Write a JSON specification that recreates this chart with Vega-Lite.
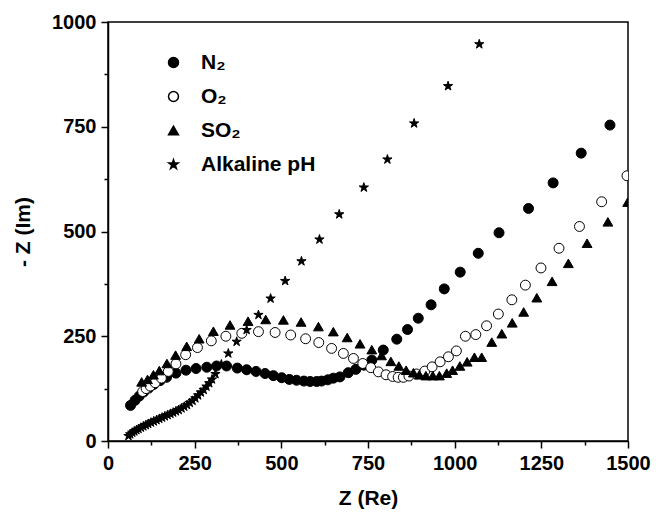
{
  "$schema": "https://vega.github.io/schema/vega-lite/v6.json",
  "width": 520,
  "height": 419,
  "autosize": {"type": "none"},
  "padding": {"left": 108, "top": 22, "right": 28, "bottom": 72},
  "background": "white",
  "config": {
    "font": "Liberation Sans",
    "view": {"stroke": "black", "strokeWidth": 1.5},
    "axis": {
      "grid": false,
      "domainColor": "black",
      "domainWidth": 1.5,
      "tickColor": "black",
      "tickWidth": 1.5,
      "labelColor": "black",
      "labelFont": "Liberation Sans",
      "labelFontSize": 20,
      "labelFontWeight": "bold",
      "titleFont": "Liberation Sans",
      "titleFontSize": 21,
      "titleFontWeight": "bold",
      "titleColor": "black",
      "labelOverlap": false,
      "labelFlush": false
    },
    "legend": {
      "labelFont": "Liberation Sans",
      "labelFontSize": 21,
      "labelFontWeight": "bold",
      "labelColor": "black",
      "title": null,
      "orient": "none",
      "legendX": 55,
      "legendY": 30,
      "symbolSize": 90,
      "labelOffset": 17,
      "rowPadding": 12,
      "padding": 0
    }
  },
  "data": {
    "values": [
      {"s": "N₂", "x": 65, "y": 85}, {"s": "N₂", "x": 78, "y": 97}, {"s": "N₂", "x": 90, "y": 107},
      {"s": "N₂", "x": 103, "y": 117}, {"s": "N₂", "x": 117, "y": 126}, {"s": "N₂", "x": 132, "y": 135},
      {"s": "N₂", "x": 150, "y": 144}, {"s": "N₂", "x": 169, "y": 152}, {"s": "N₂", "x": 196, "y": 162},
      {"s": "N₂", "x": 225, "y": 169}, {"s": "N₂", "x": 254, "y": 173}, {"s": "N₂", "x": 285, "y": 176},
      {"s": "N₂", "x": 313, "y": 179}, {"s": "N₂", "x": 342, "y": 179}, {"s": "N₂", "x": 373, "y": 174},
      {"s": "N₂", "x": 400, "y": 170}, {"s": "N₂", "x": 427, "y": 166}, {"s": "N₂", "x": 453, "y": 161},
      {"s": "N₂", "x": 477, "y": 156}, {"s": "N₂", "x": 501, "y": 151}, {"s": "N₂", "x": 523, "y": 147},
      {"s": "N₂", "x": 544, "y": 145}, {"s": "N₂", "x": 565, "y": 143}, {"s": "N₂", "x": 583, "y": 142},
      {"s": "N₂", "x": 602, "y": 142}, {"s": "N₂", "x": 616, "y": 143}, {"s": "N₂", "x": 634, "y": 146},
      {"s": "N₂", "x": 650, "y": 150}, {"s": "N₂", "x": 669, "y": 153}, {"s": "N₂", "x": 693, "y": 163},
      {"s": "N₂", "x": 715, "y": 171}, {"s": "N₂", "x": 738, "y": 181}, {"s": "N₂", "x": 761, "y": 193},
      {"s": "N₂", "x": 794, "y": 217}, {"s": "N₂", "x": 833, "y": 243}, {"s": "N₂", "x": 864, "y": 266},
      {"s": "N₂", "x": 895, "y": 293}, {"s": "N₂", "x": 932, "y": 325}, {"s": "N₂", "x": 970, "y": 363},
      {"s": "N₂", "x": 1016, "y": 403}, {"s": "N₂", "x": 1068, "y": 448}, {"s": "N₂", "x": 1128, "y": 497},
      {"s": "N₂", "x": 1213, "y": 555}, {"s": "N₂", "x": 1284, "y": 616}, {"s": "N₂", "x": 1365, "y": 687},
      {"s": "N₂", "x": 1448, "y": 754},

      {"s": "O₂", "x": 100, "y": 118}, {"s": "O₂", "x": 110, "y": 125}, {"s": "O₂", "x": 122, "y": 131},
      {"s": "O₂", "x": 136, "y": 139}, {"s": "O₂", "x": 154, "y": 150}, {"s": "O₂", "x": 174, "y": 166},
      {"s": "O₂", "x": 196, "y": 184}, {"s": "O₂", "x": 224, "y": 206}, {"s": "O₂", "x": 258, "y": 223},
      {"s": "O₂", "x": 298, "y": 239}, {"s": "O₂", "x": 340, "y": 250}, {"s": "O₂", "x": 386, "y": 257},
      {"s": "O₂", "x": 434, "y": 261}, {"s": "O₂", "x": 482, "y": 259}, {"s": "O₂", "x": 527, "y": 253},
      {"s": "O₂", "x": 570, "y": 244}, {"s": "O₂", "x": 608, "y": 235}, {"s": "O₂", "x": 645, "y": 221},
      {"s": "O₂", "x": 679, "y": 209}, {"s": "O₂", "x": 708, "y": 197}, {"s": "O₂", "x": 735, "y": 185},
      {"s": "O₂", "x": 758, "y": 175}, {"s": "O₂", "x": 780, "y": 165}, {"s": "O₂", "x": 802, "y": 158},
      {"s": "O₂", "x": 821, "y": 154}, {"s": "O₂", "x": 837, "y": 152}, {"s": "O₂", "x": 852, "y": 152},
      {"s": "O₂", "x": 868, "y": 155}, {"s": "O₂", "x": 890, "y": 160}, {"s": "O₂", "x": 914, "y": 167},
      {"s": "O₂", "x": 935, "y": 177}, {"s": "O₂", "x": 958, "y": 189}, {"s": "O₂", "x": 982, "y": 201},
      {"s": "O₂", "x": 1005, "y": 215}, {"s": "O₂", "x": 1031, "y": 250}, {"s": "O₂", "x": 1061, "y": 254},
      {"s": "O₂", "x": 1092, "y": 275}, {"s": "O₂", "x": 1126, "y": 303}, {"s": "O₂", "x": 1165, "y": 337},
      {"s": "O₂", "x": 1204, "y": 372}, {"s": "O₂", "x": 1249, "y": 413}, {"s": "O₂", "x": 1301, "y": 460},
      {"s": "O₂", "x": 1360, "y": 512}, {"s": "O₂", "x": 1424, "y": 571}, {"s": "O₂", "x": 1497, "y": 633},

      {"s": "SO₂", "x": 97, "y": 141}, {"s": "SO₂", "x": 114, "y": 147}, {"s": "SO₂", "x": 131, "y": 158},
      {"s": "SO₂", "x": 148, "y": 168}, {"s": "SO₂", "x": 170, "y": 185}, {"s": "SO₂", "x": 195, "y": 205},
      {"s": "SO₂", "x": 227, "y": 226}, {"s": "SO₂", "x": 263, "y": 244}, {"s": "SO₂", "x": 304, "y": 262},
      {"s": "SO₂", "x": 352, "y": 277}, {"s": "SO₂", "x": 404, "y": 286}, {"s": "SO₂", "x": 455, "y": 290},
      {"s": "SO₂", "x": 506, "y": 289}, {"s": "SO₂", "x": 557, "y": 284}, {"s": "SO₂", "x": 607, "y": 273},
      {"s": "SO₂", "x": 650, "y": 261}, {"s": "SO₂", "x": 690, "y": 247}, {"s": "SO₂", "x": 727, "y": 232},
      {"s": "SO₂", "x": 761, "y": 218}, {"s": "SO₂", "x": 789, "y": 204}, {"s": "SO₂", "x": 816, "y": 190},
      {"s": "SO₂", "x": 839, "y": 179}, {"s": "SO₂", "x": 860, "y": 169}, {"s": "SO₂", "x": 881, "y": 163},
      {"s": "SO₂", "x": 898, "y": 158}, {"s": "SO₂", "x": 917, "y": 156}, {"s": "SO₂", "x": 937, "y": 156},
      {"s": "SO₂", "x": 956, "y": 156}, {"s": "SO₂", "x": 977, "y": 162}, {"s": "SO₂", "x": 994, "y": 169},
      {"s": "SO₂", "x": 1015, "y": 179}, {"s": "SO₂", "x": 1036, "y": 189}, {"s": "SO₂", "x": 1057, "y": 200},
      {"s": "SO₂", "x": 1078, "y": 200}, {"s": "SO₂", "x": 1107, "y": 236}, {"s": "SO₂", "x": 1136, "y": 256},
      {"s": "SO₂", "x": 1166, "y": 282}, {"s": "SO₂", "x": 1199, "y": 308}, {"s": "SO₂", "x": 1237, "y": 342},
      {"s": "SO₂", "x": 1281, "y": 381}, {"s": "SO₂", "x": 1328, "y": 424}, {"s": "SO₂", "x": 1382, "y": 472},
      {"s": "SO₂", "x": 1442, "y": 523}, {"s": "SO₂", "x": 1499, "y": 570},

      {"s": "Alkaline pH", "x": 59, "y": 12}, {"s": "Alkaline pH", "x": 64, "y": 16}, {"s": "Alkaline pH", "x": 70, "y": 20},
      {"s": "Alkaline pH", "x": 76, "y": 23}, {"s": "Alkaline pH", "x": 82, "y": 26}, {"s": "Alkaline pH", "x": 88, "y": 29},
      {"s": "Alkaline pH", "x": 95, "y": 32}, {"s": "Alkaline pH", "x": 102, "y": 35}, {"s": "Alkaline pH", "x": 109, "y": 38},
      {"s": "Alkaline pH", "x": 116, "y": 41}, {"s": "Alkaline pH", "x": 124, "y": 44}, {"s": "Alkaline pH", "x": 132, "y": 47},
      {"s": "Alkaline pH", "x": 140, "y": 50}, {"s": "Alkaline pH", "x": 148, "y": 53}, {"s": "Alkaline pH", "x": 156, "y": 56},
      {"s": "Alkaline pH", "x": 164, "y": 59}, {"s": "Alkaline pH", "x": 172, "y": 62}, {"s": "Alkaline pH", "x": 180, "y": 65},
      {"s": "Alkaline pH", "x": 188, "y": 68}, {"s": "Alkaline pH", "x": 196, "y": 71}, {"s": "Alkaline pH", "x": 204, "y": 74},
      {"s": "Alkaline pH", "x": 212, "y": 78}, {"s": "Alkaline pH", "x": 220, "y": 82}, {"s": "Alkaline pH", "x": 228, "y": 86},
      {"s": "Alkaline pH", "x": 236, "y": 91}, {"s": "Alkaline pH", "x": 244, "y": 96}, {"s": "Alkaline pH", "x": 252, "y": 102},
      {"s": "Alkaline pH", "x": 260, "y": 109}, {"s": "Alkaline pH", "x": 268, "y": 116}, {"s": "Alkaline pH", "x": 276, "y": 122},
      {"s": "Alkaline pH", "x": 284, "y": 130}, {"s": "Alkaline pH", "x": 292, "y": 138}, {"s": "Alkaline pH", "x": 300, "y": 147},
      {"s": "Alkaline pH", "x": 310, "y": 160}, {"s": "Alkaline pH", "x": 327, "y": 183}, {"s": "Alkaline pH", "x": 347, "y": 209},
      {"s": "Alkaline pH", "x": 371, "y": 237}, {"s": "Alkaline pH", "x": 400, "y": 265}, {"s": "Alkaline pH", "x": 434, "y": 301},
      {"s": "Alkaline pH", "x": 469, "y": 340}, {"s": "Alkaline pH", "x": 511, "y": 382}, {"s": "Alkaline pH", "x": 558, "y": 429},
      {"s": "Alkaline pH", "x": 610, "y": 481}, {"s": "Alkaline pH", "x": 667, "y": 541}, {"s": "Alkaline pH", "x": 738, "y": 605},
      {"s": "Alkaline pH", "x": 806, "y": 672}, {"s": "Alkaline pH", "x": 883, "y": 758}, {"s": "Alkaline pH", "x": 981, "y": 847},
      {"s": "Alkaline pH", "x": 1071, "y": 947}
    ]
  },
  "mark": {"type": "point", "stroke": "black", "strokeWidth": 1, "opacity": 1, "fillOpacity": 1, "clip": true},
  "encoding": {
    "x": {
      "field": "x", "type": "quantitative",
      "scale": {"domain": [0, 1500], "nice": false, "zero": false},
      "axis": {
        "title": "Z (Re)",
        "values": [0, 125, 250, 375, 500, 625, 750, 875, 1000, 1125, 1250, 1375, 1500],
        "labelExpr": "datum.value % 250 === 0 ? datum.label : ''",
        "format": "d",
        "tickSize": {"condition": {"test": "datum.value % 250 === 0", "value": 7}, "value": 4},
        "labelPadding": 5,
        "titlePadding": 14
      }
    },
    "y": {
      "field": "y", "type": "quantitative",
      "scale": {"domain": [0, 1000], "nice": false, "zero": false},
      "axis": {
        "title": "- Z (Im)",
        "values": [0, 125, 250, 375, 500, 625, 750, 875, 1000],
        "labelExpr": "datum.value % 250 === 0 ? datum.label : ''",
        "format": "d",
        "tickSize": {"condition": {"test": "datum.value % 250 === 0", "value": 7}, "value": 4},
        "labelPadding": 5,
        "titlePadding": 18
      }
    },
    "size": {
      "field": "s", "type": "nominal",
      "scale": {"domain": ["N₂", "O₂", "SO₂", "Alkaline pH"], "range": [100, 95, 115, 150]},
      "legend": {"encode": {"symbols": {"update": {"stroke": {"value": "black"}, "strokeWidth": {"value": 1}, "size": {"value": 90}}}}}
    },
    "shape": {
      "field": "s", "type": "nominal",
      "scale": {
        "domain": ["N₂", "O₂", "SO₂", "Alkaline pH"],
        "range": ["circle", "circle", "triangle-up", "M0,-1L0.2234,-0.3074L0.9511,-0.309L0.3614,0.1174L0.5878,0.809L0,0.38L-0.5878,0.809L-0.3614,0.1174L-0.9511,-0.309L-0.2234,-0.3074Z"]
      },
      "legend": {"encode": {"symbols": {"update": {"stroke": {"value": "black"}, "strokeWidth": {"value": 1}, "size": {"value": 90}}}}}
    },
    "fill": {
      "field": "s", "type": "nominal",
      "scale": {
        "domain": ["N₂", "O₂", "SO₂", "Alkaline pH"],
        "range": ["black", "white", "black", "black"]
      },
      "legend": {"encode": {"symbols": {"update": {"stroke": {"value": "black"}, "strokeWidth": {"value": 1}, "size": {"value": 90}}}}}
    }
  }
}
